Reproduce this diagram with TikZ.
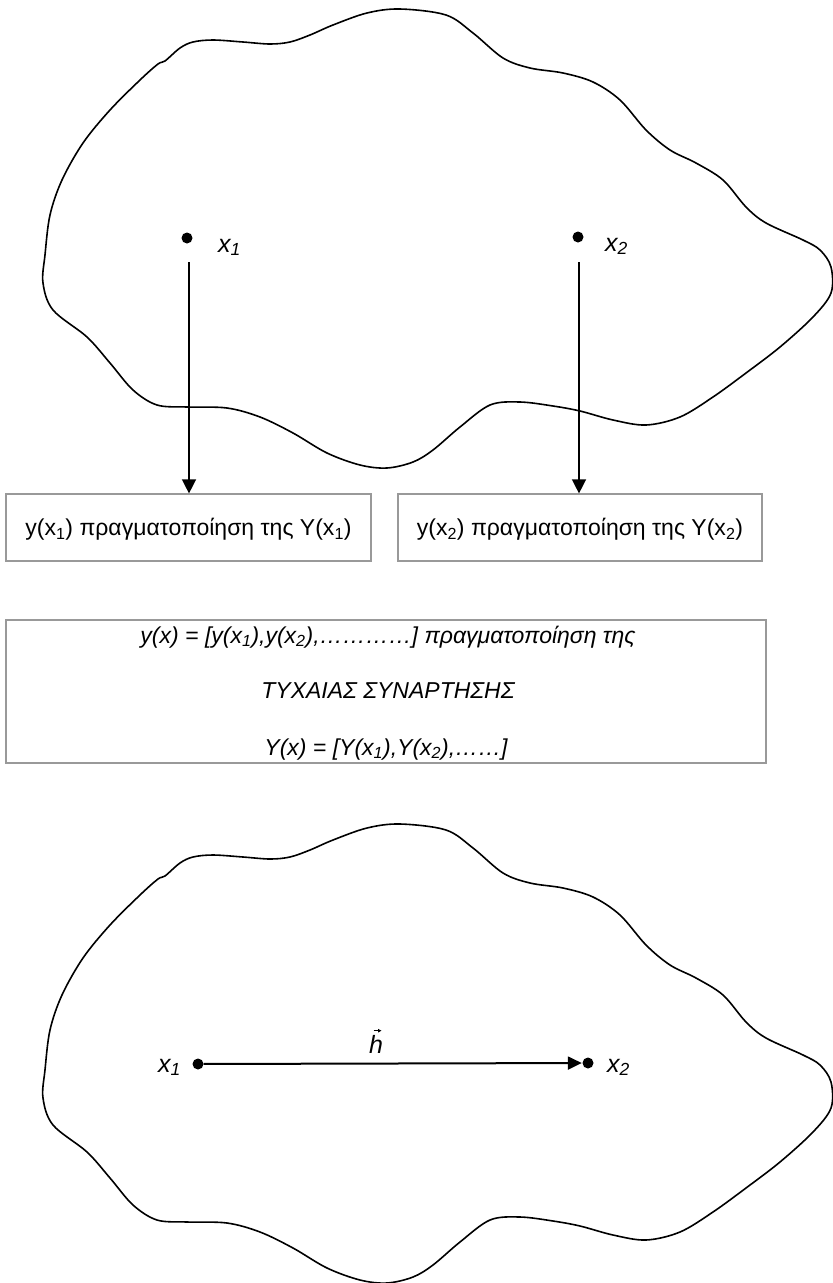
\documentclass[tikz,border=0pt]{standalone}
\usepackage{fontspec}
\setmainfont{Liberation Sans}
\usetikzlibrary{arrows.meta}

\begin{document}
\begin{tikzpicture}[x=1pt,y=-1pt,
  blob/.style={draw=black, line width=1.6pt, line join=round},
  dotpt/.style={circle, fill=black, inner sep=0pt, minimum size=11pt},
  ptlabel/.style={font=\fontsize{25}{30}\selectfont\itshape, inner sep=0pt, anchor=base west},
  textbox/.style={draw=black!40, line width=1.2pt, inner sep=0pt,
    font=\fontsize{23}{27}\selectfont, text height=16.5pt, text depth=0pt},
  boxline/.style={font=\fontsize{23}{27}\selectfont\itshape, inner sep=0pt, anchor=base},
  downarrow/.style={draw=black, line width=1.4pt, -{Triangle[length=14pt,width=14pt]}},
  vecarrow/.style={draw=black, line width=2pt, -{Triangle[length=14pt,width=13pt]}, shorten >=0.5pt},
  region/.pic={
    \draw[blob] plot[smooth cycle, tension=0.55] coordinates {
      (400,9) (446,15) (473,33) (503,58) (530,68) (563,73) (593,82) (620,100)
      (646,130) (670,150) (696,163) (723,180) (746,207) (766,223) (803,240)
      (820,250) (831,267) (831,293) (813,317) (780,347) (746,373) (713,397)
      (680,417) (646,425) (613,420) (580,411) (553,406) (520,402) (490,405)
      (460,427) (433,450) (413,462) (387,468) (360,465) (327,453) (293,433)
      (260,417) (227,408) (187,407) (157,405) (133,390) (110,363) (87,337)
      (53,310) (43,283) (45,255) (50,215) (62,180) (83,143) (110,110)
      (140,80) (158,64) (165,61) (180,48) (193,42) (213,40) (243,42) (270,44)
      (290,42) (310,35) (333,25) (367,13)};
  }]
\useasboundingbox (0,0) rectangle (833,1283);

% upper domain with two points
\pic at (0,0) {region};
\node[dotpt] (p1) at (187,238) {};
\node[dotpt] (p2) at (578,237) {};
\node[ptlabel] (lp1) at (218,252) {x\textsubscript{1}};
\node[ptlabel] (lp2) at (605,251) {x\textsubscript{2}};

% realisations at the two points
\node[textbox, minimum width=365pt, minimum height=67pt] (b1) at (188.5,527.5)
  {y(x\textsubscript{1}) πραγματοποίηση της Y(x\textsubscript{1})};
\node[textbox, minimum width=364pt, minimum height=67pt] (b2) at (580,527.5)
  {y(x\textsubscript{2}) πραγματοποίηση της Y(x\textsubscript{2})};

\coordinate (s1) at (189,262);
\coordinate (s2) at (579,262);
\draw[downarrow] (s1) -- (s1 |- b1.north);
\draw[downarrow] (s2) -- (s2 |- b2.north);

% random function box
\node[draw=black!40, line width=1.2pt, minimum width=760pt, minimum height=143pt,
  inner sep=0pt] (bb) at (386,691.5) {};
\node[boxline] (l1) at (388,643)
  {y(x) = [y(x\textsubscript{1}),y(x\textsubscript{2}),…………] πραγματοποίηση της};
\node[boxline] (l2) at (388,698) {ΤΥΧΑΙΑΣ ΣΥΝΑΡΤΗΣΗΣ};
\node[boxline] (l3) at (386,755)
  {Y(x) = [Y(x\textsubscript{1}),Y(x\textsubscript{2}),……]};

% lower domain with the lag vector
\pic at (0,815) {region};
\node[dotpt] (q1) at (198,1064) {};
\node[dotpt] (q2) at (588,1063) {};
\node[ptlabel] (lq1) at (158,1072) {x\textsubscript{1}};
\node[ptlabel] (lq2) at (607,1072) {x\textsubscript{2}};
\draw[vecarrow] (q1) -- (q2);
\node[boxline, font=\fontsize{25}{30}\selectfont\itshape] (hl) at (376,1053) {h};
\draw[line width=0.8pt, -{Triangle[length=3.5pt,width=3.5pt]}]
  ([xshift=-2.5pt,yshift=4pt]hl.north) -- ([xshift=5.5pt,yshift=4pt]hl.north);
\end{tikzpicture}
\end{document}
